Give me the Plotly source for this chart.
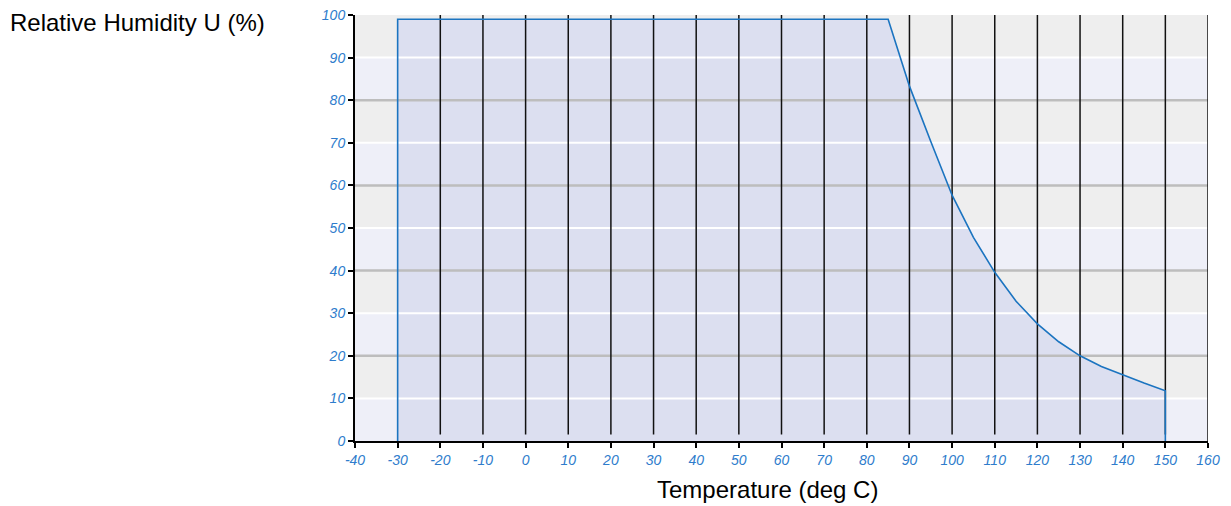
import plotly.graph_objects as go

# Data
temp = [-30, -30, 85, 90, 95, 100, 105, 110, 115, 120, 125, 130, 135, 140, 145, 150, 150]
rh   = [0,   99,  99, 83.3, 70.3, 57.7, 47.8, 39.6, 32.8, 27.5, 23.3, 20.0, 17.5, 15.5, 13.6, 11.8, 0]

x_ticks = list(range(-40, 161, 10))
y_ticks = list(range(0, 101, 10))
v_grid = list(range(-20, 161, 10))

BLUE = "#1b74c0"
TICK_BLUE = "#2e7ccc"
FILL = "#dcdff0"
FONT = "Liberation Sans, Arial, sans-serif"

W, H = 1223, 498
ML, MR, MT, MB = 347, 23, 7, 65
PW = W - ML - MR

fig = go.Figure()

# filled area
fig.add_trace(go.Scatter(x=temp, y=rh, mode="lines", line=dict(width=0),
                         fill="tozeroy", fillcolor=FILL, hoverinfo="skip", showlegend=False))

# horizontal lines
for v in y_ticks[1:-1]:
    major = (v % 20 == 0)
    fig.add_trace(go.Scatter(x=[-40, 160], y=[v, v], mode="lines",
                             line=dict(color="#bdbdbd" if major else "#ffffff", width=2.5 if major else 2),
                             hoverinfo="skip", showlegend=False))

# vertical black grid lines
for v in v_grid:
    y0 = 0 if v == 160 else 1.5
    fig.add_trace(go.Scatter(x=[v, v], y=[y0, 100], mode="lines",
                             line=dict(color="#111111", width=1.5),
                             hoverinfo="skip", showlegend=False))

# curve line
fig.add_trace(go.Scatter(x=temp, y=rh, mode="lines", line=dict(color=BLUE, width=1.6),
                         showlegend=False))

# background bands
shapes = []
for v in y_ticks[:-1]:
    col = "#eeeff8" if (v // 10) % 2 == 0 else "#eeeeee"
    shapes.append(dict(type="rect", xref="paper", yref="y", x0=0, x1=1, y0=v, y1=v + 10,
                       fillcolor=col, line=dict(width=0), layer="below"))

tickfont = dict(family=FONT, size=14, color=TICK_BLUE, style="italic")

fig.update_layout(
    width=W, height=H,
    margin=dict(l=ML, r=MR, t=MT, b=MB),
    paper_bgcolor="white", plot_bgcolor="white",
    shapes=shapes,
    xaxis=dict(range=[-40, 160], tickvals=x_ticks, ticktext=[str(t) for t in x_ticks],
               showgrid=False, zeroline=False, showline=True, linecolor="black", linewidth=2,
               ticks="outside", ticklen=5, tickwidth=1.5, tickcolor="black", tickfont=tickfont,
               ticklabeloverflow="allow", automargin=False),
    yaxis=dict(range=[0, 100], tickvals=y_ticks, ticktext=[str(t) for t in y_ticks],
               showgrid=False, zeroline=False, showline=True, linecolor="black", linewidth=2,
               ticks="outside", ticklen=5, tickwidth=1.5, tickcolor="black", tickfont=tickfont,
               ticklabeloverflow="allow", automargin=False),
    annotations=[
        dict(text="Relative Humidity U (%)", xref="paper", yref="paper",
             x=-ML / PW, y=1, xanchor="left", yanchor="middle", yshift=-7, showarrow=False,
             font=dict(family=FONT, size=24, color="black")),
        dict(text="Temperature (deg C)", xref="paper", yref="paper",
             x=(767 - 8 - ML) / PW, y=0, xanchor="center", yanchor="middle", yshift=-48, showarrow=False,
             font=dict(family=FONT, size=24, color="black")),
    ],
)

fig.write_html("out.html")
